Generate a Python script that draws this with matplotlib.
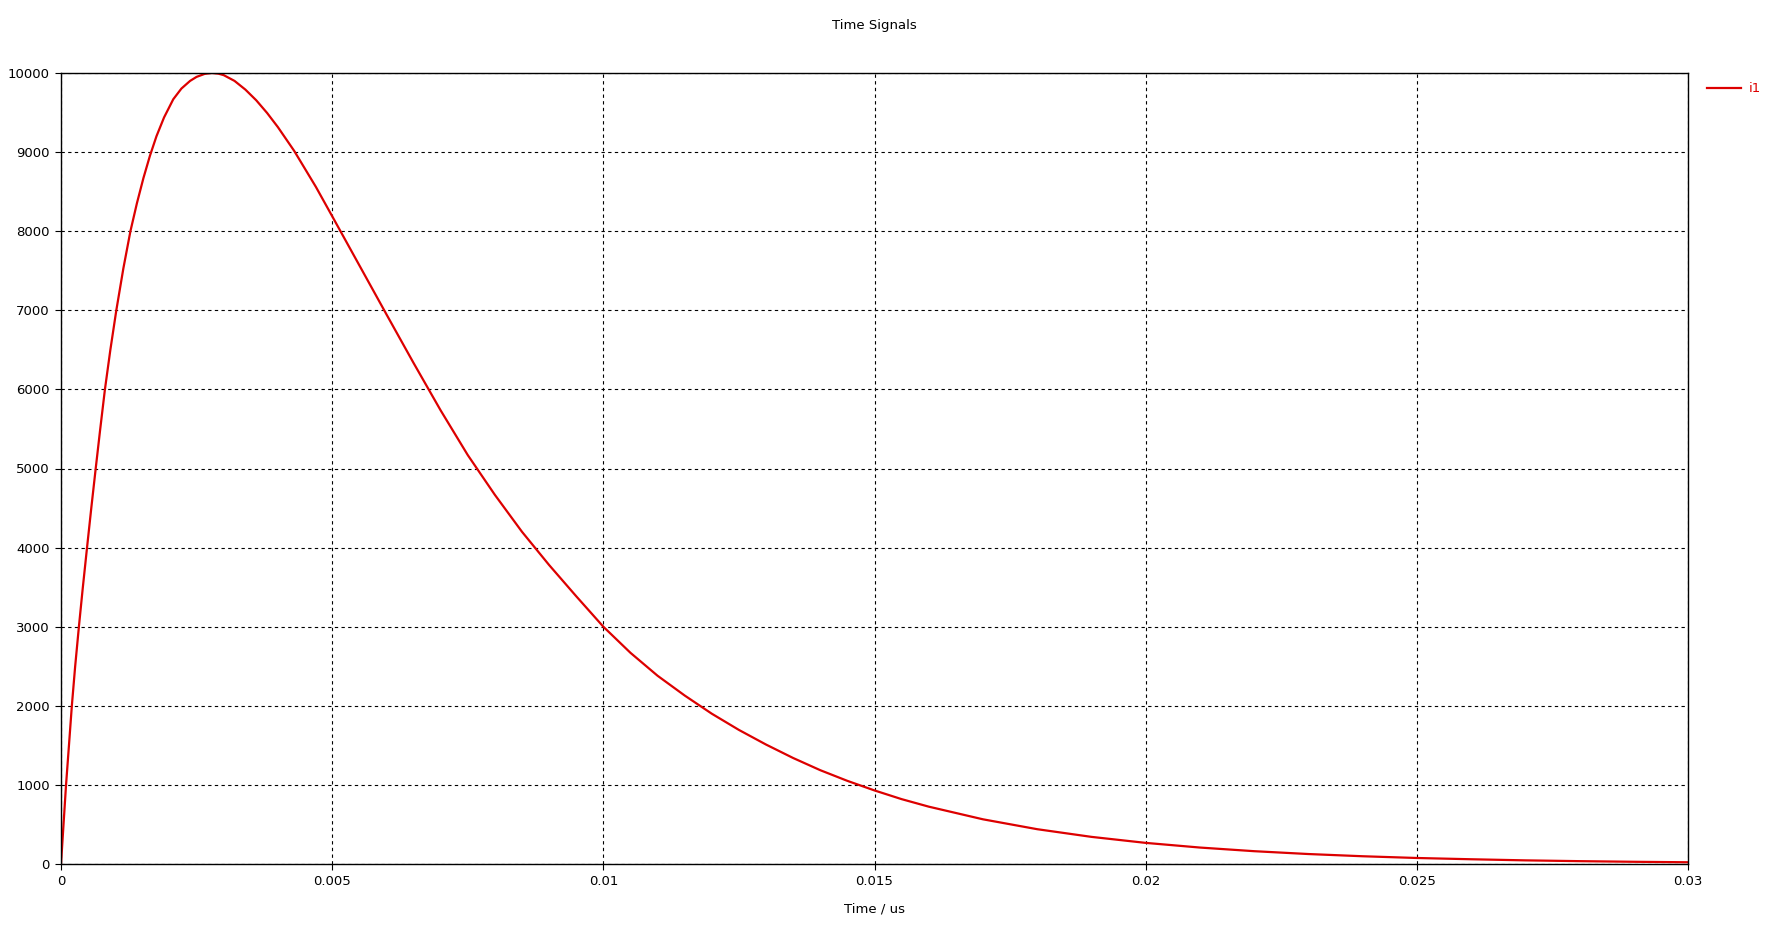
import matplotlib
matplotlib.use('Agg')
import matplotlib.pyplot as plt

# values (time in us, current i1)
t = [0.0, 0.000093, 0.00015, 0.0002, 0.00026, 0.00033, 0.0004, 0.00048,
     0.00056, 0.00064, 0.00072, 0.00081, 0.00091, 0.00102, 0.00115, 0.00128,
     0.0014, 0.00152, 0.00164, 0.00176, 0.0019, 0.00207, 0.00222, 0.00238,
     0.0025, 0.00265, 0.00278, 0.0029, 0.003, 0.0032, 0.0034, 0.0036,
     0.0038, 0.004, 0.0043, 0.0047, 0.005, 0.0055, 0.006, 0.0065,
     0.007, 0.0075, 0.008, 0.0085, 0.009, 0.0095, 0.01, 0.0105,
     0.011, 0.0115, 0.012, 0.0125, 0.013, 0.0135, 0.014, 0.0145,
     0.015, 0.0155, 0.016, 0.017, 0.018, 0.019, 0.02, 0.021,
     0.022, 0.023, 0.024, 0.025, 0.026, 0.027, 0.028, 0.029, 0.03]
i1 = [0, 1000, 1530, 2000, 2490, 3000, 3480, 4000,
      4510, 5000, 5480, 6000, 6500, 7000, 7530, 8000,
      8354, 8672, 8954, 9200, 9438, 9668, 9803, 9900,
      9951, 9989, 10000, 9992, 9973, 9900, 9790, 9655,
      9495, 9315, 9015, 8560, 8190, 7570, 6950, 6335,
      5735, 5170, 4667, 4200, 3780, 3385, 3000, 2670,
      2380, 2130, 1900, 1695, 1510, 1340, 1186, 1051,
      930, 820, 725, 565, 440, 343, 267, 208,
      162, 126, 98, 76, 60, 46, 36, 28, 22]

xticks = [0, 0.005, 0.01, 0.015, 0.02, 0.025, 0.03]
yticks = [0, 1000, 2000, 3000, 4000, 5000, 6000, 7000, 8000, 9000, 10000]

fig = plt.figure(figsize=(17.83, 9.33), dpi=100)
ax = fig.add_axes([61/1783, 1 - 864/933, (1688 - 61)/1783, (864 - 73)/933])

ax.plot(t, i1, color='#dd0000', lw=1.6, label='i1')

ax.set_xlim(0, 0.03)
ax.set_ylim(0, 10000)
ax.set_xticks(xticks)
ax.set_xticklabels(['{:g}'.format(v) for v in xticks])
ax.set_yticks(yticks)
ax.set_yticklabels([str(v) for v in yticks])
ax.tick_params(direction='out', length=4, width=0.8, labelsize=9.5, pad=4,
               colors='black')

ax.grid(True, color='black', linestyle=(0, (3, 3)), lw=0.8)
for s in ax.spines.values():
    s.set_color('black')
    s.set_linewidth(1.0)

ax.set_xlabel('Time / us', fontsize=9.5, labelpad=10)
fig.text(874/1783, 1 - 25/933, 'Time Signals', ha='center', va='center',
         fontsize=9.5)

leg = ax.legend(loc='upper left', bbox_to_anchor=(1.006, 1.0), frameon=False,
                fontsize=9.5, handlelength=2.6, handletextpad=0.6,
                borderaxespad=0.3)
for txt in leg.get_texts():
    txt.set_color('#dd0000')

fig.savefig('out.png', dpi=100)
